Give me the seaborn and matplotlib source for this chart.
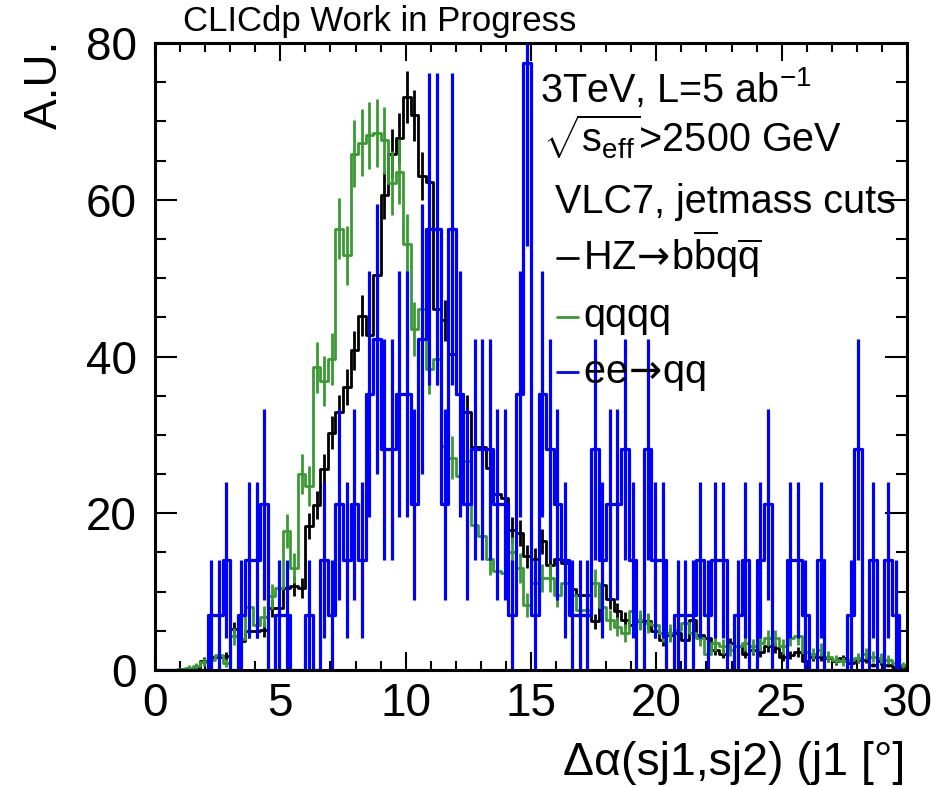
import numpy as np
import pandas as pd
import matplotlib
matplotlib.use("Agg")
import matplotlib.pyplot as plt
from matplotlib.lines import Line2D
from matplotlib.ticker import MultipleLocator
import seaborn as sns

# ---------------- data (100 bins of 0.3 deg from 0 to 30) ----------------
n_bins = 100
x_range = (0.0, 30.0)
bin_edges = np.linspace(x_range[0], x_range[1], n_bins + 1)
bin_centers = 0.5 * (bin_edges[:-1] + bin_edges[1:])

hz_values = [0, 0, 0, 0.1, 0.1, 0.2, 1.2, 1.6, 1.6, 1.8,
             5.2, 3.7, 5.0, 5.0, 5.1, 7.9, 7.9, 10.4, 10.7, 10.5,
             18.4, 21.1, 25.6, 30.3, 32.9, 36.1, 40.8, 45.2, 42.7, 50.4,
             60.6, 65.9, 67.9, 73.1, 70.8, 63.0, 62.3, 46.1, 44.6, 40.3,
             35.2, 32.9, 28.4, 28.4, 25.8, 22.4, 22.0, 17.9, 17.5, 14.5,
             14.1, 16.4, 13.4, 14.1, 13.7, 10.3, 9.6, 9.6, 6.2, 10.9,
             9.0, 7.5, 6.4, 5.8, 6.2, 6.2, 5.0, 3.8, 4.5, 4.7,
             3.8, 6.4, 4.5, 4.1, 2.6, 2.1, 3.4, 3.0, 2.1, 2.6,
             2.3, 3.0, 2.8, 1.7, 1.9, 2.3, 1.1, 1.7, 1.7, 1.5,
             1.1, 1.5, 0.85, 1.3, 1.3, 0.64, 1.1, 0.64, 0.4, 0.4]

qqqq_values = [0, 0, 0, 0.1, 0.3, 0.5, 1.0, 1.3, 1.9, 0.9,
               4.3, 4.0, 8.1, 5.8, 6.8, 9.4, 10.5, 17.7, 13.0, 25.0,
               23.5, 38.6, 36.9, 39.7, 56.3, 52.9, 65.9, 67.3, 68.2, 68.5,
               67.6, 62.1, 63.6, 54.4, 43.5, 46.1, 38.4, 39.7, 28.6, 27.1,
               24.8, 26.7, 18.5, 17.1, 14.1, 12.6, 12.4, 15.0, 13.0, 8.3,
               11.1, 11.7, 11.7, 9.6, 11.1, 9.6, 7.7, 7.7, 11.1, 8.1,
               6.4, 5.5, 4.7, 7.5, 6.4, 6.0, 5.8, 4.7, 4.7, 5.1,
               6.0, 4.7, 4.1, 2.1, 3.4, 3.0, 2.6, 3.0, 3.4, 3.0,
               3.4, 4.1, 4.1, 3.0, 4.1, 4.3, 2.3, 2.1, 2.6, 1.7,
               1.3, 1.1, 1.3, 1.5, 2.1, 1.7, 1.5, 1.3, 0.85, 0.64]

# ee->qq: raw event counts per bin, each event weighted
eeqq_counts = [0, 0, 0, 0, 0, 0, 0, 1, 1, 2,
               0, 1, 2, 2, 3, 0, 1, 1, 0, 0,
               1, 0, 2, 1, 3, 2, 3, 2, 5, 6,
               4, 4, 5, 5, 3, 6, 8, 8, 3, 8,
               5, 3, 4, 4, 4, 3, 3, 1, 5, 11,
               1, 5, 4, 3, 2, 1, 1, 1, 4, 2,
               3, 3, 4, 2, 0, 4, 2, 2, 0, 1,
               1, 1, 2, 1, 2, 2, 0, 1, 2, 0,
               2, 3, 0, 0, 2, 2, 1, 0, 2, 0,
               0, 0, 1, 4, 0, 2, 0, 2, 1, 0]

hz_event_weight = 0.15
qqqq_event_weight = 0.27
eeqq_event_weight = 7.04

series_names = ["HZ", "qqqq", "eeqq"]
series_colors = {"HZ": "#000000", "qqqq": "#3a9a32", "eeqq": "#0000ff"}

hz = np.array(hz_values, dtype=float)
qq4 = np.array(qqqq_values, dtype=float)
ee = np.array(eeqq_counts, dtype=float) * eeqq_event_weight

errors = {
    "HZ": np.sqrt(hz * hz_event_weight),
    "qqqq": np.sqrt(qq4 * qqqq_event_weight),
    "eeqq": np.sqrt(np.array(eeqq_counts, dtype=float)) * eeqq_event_weight,
}

df = pd.DataFrame({
    "angle": np.tile(bin_centers, 3),
    "value": np.concatenate([hz, qq4, ee]),
    "sample": np.repeat(series_names, len(bin_centers)),
})

# ---------------- style ----------------
sns.set_theme(style="ticks")
plt.rcParams["font.family"] = ["Liberation Sans", "DejaVu Sans"]
plt.rcParams["mathtext.fontset"] = "custom"
plt.rcParams["mathtext.rm"] = "Liberation Sans"
plt.rcParams["mathtext.it"] = "Liberation Sans:italic"
plt.rcParams["mathtext.bf"] = "Liberation Sans:bold"
plt.rcParams["mathtext.sf"] = "DejaVu Sans"
plt.rcParams["axes.unicode_minus"] = False
plt.rcParams["text.color"] = "black"
plt.rcParams["axes.labelcolor"] = "black"
plt.rcParams["xtick.color"] = "black"
plt.rcParams["ytick.color"] = "black"

W, H = 935, 787
fig = plt.figure(figsize=(W / 100, H / 100), dpi=100)
fig.patch.set_facecolor("white")

x0, x1, y0, y1 = 155, 907, 43, 670
ax = fig.add_axes([x0 / W, 1 - y1 / H, (x1 - x0) / W, (y1 - y0) / H])
ax.set_facecolor("white")

lw = {"HZ": 2.0, "qqqq": 2.0, "eeqq": 2.3}
for name in series_names:
    sub = df[df["sample"] == name].reset_index(drop=True)
    sns.histplot(data=sub, x="angle", weights="value", bins=n_bins,
                 binrange=x_range, element="step", fill=False,
                 color=series_colors[name], linewidth=lw[name], ax=ax)
    ax.errorbar(sub["angle"].to_numpy(), sub["value"].to_numpy(),
                yerr=errors[name], fmt="none",
                ecolor=series_colors[name], elinewidth=lw[name], capsize=0)

ax.set_xlim(0, 30)
ax.set_ylim(0, 80)
ax.set_xlabel("")
ax.set_ylabel("")

ax.xaxis.set_major_locator(MultipleLocator(5))
ax.xaxis.set_minor_locator(MultipleLocator(1))
ax.yaxis.set_major_locator(MultipleLocator(20))
ax.yaxis.set_minor_locator(MultipleLocator(5))
ax.tick_params(axis="both", which="both", direction="in", top=True, right=True,
               width=1.5, colors="black", labelcolor="black")
ax.tick_params(axis="x", which="major", length=13, pad=9, labelsize=33)
ax.tick_params(axis="x", which="minor", length=6.5)
ax.tick_params(axis="y", which="major", length=16, pad=13, labelsize=33)
ax.tick_params(axis="y", which="minor", length=8)
for sp in ax.spines.values():
    sp.set_linewidth(2.2)
    sp.set_color("black")
    sp.set_visible(True)


def px(x, y):
    return x / W, 1 - y / H


fig.text(*px(183, 31), "CLICdp Work in Progress", fontsize=25,
         ha="left", va="baseline", color="black")
fig.text(*px(45, 40), "A.U.", fontsize=33, rotation=90, ha="center", va="top",
         color="black")
fig.text(*px(905, 775), "Δα(sj1,sj2) (j1 [°]", fontsize=33.5,
         ha="right", va="baseline", color="black")

fs = 28.5
arrow = r"$\!\mathsf{\rightarrow}\!$"
fig.text(*px(540, 102), r"3TeV, L=5 ab$^{-1}$", fontsize=fs, ha="left",
         va="baseline", color="black")
fig.text(*px(543, 152), r"$\sqrt{\mathrm{s}_{\mathrm{eff}}}$>2500 GeV", fontsize=fs,
         ha="left", va="baseline", color="black")
fig.text(*px(555, 213), "VLC7, jetmass cuts", fontsize=fs, ha="left",
         va="baseline", color="black")
fig.text(*px(583, 270),
         r"HZ" + arrow + r"b$\overline{\mathrm{b}}$q$\overline{\mathrm{q}}$",
         fontsize=fs, ha="left", va="baseline", color="black")
fig.text(*px(583, 327), "qqqq", fontsize=fs, ha="left", va="baseline",
         color="black")
fig.text(*px(583, 383), "ee" + arrow + "qq", fontsize=fs, ha="left",
         va="baseline", color="black")

for name, ypix in [("HZ", 258), ("qqqq", 317), ("eeqq", 372)]:
    fx0, fy = px(557, ypix)
    fx1, _ = px(578, ypix)
    fig.add_artist(Line2D([fx0, fx1], [fy, fy], color=series_colors[name],
                          linewidth=2.0, transform=fig.transFigure))

fig.savefig("out.png", dpi=100, facecolor="white")
